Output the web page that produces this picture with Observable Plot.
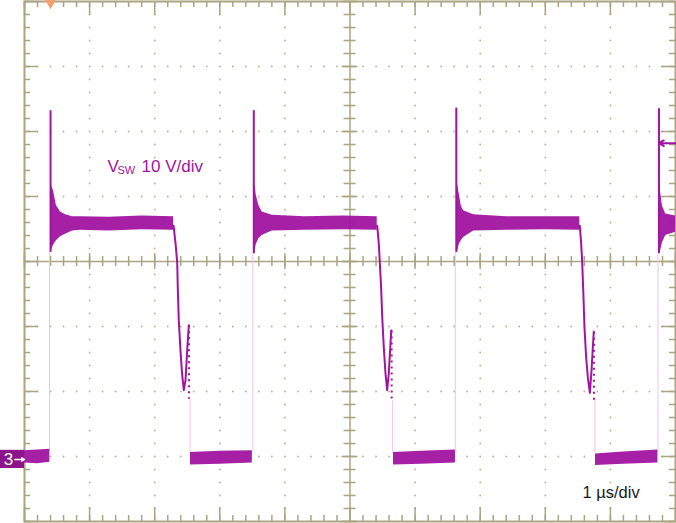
<!DOCTYPE html>
<html><head><meta charset="utf-8">
<script src="https://cdn.jsdelivr.net/npm/d3@7"></script>
<script src="https://cdn.jsdelivr.net/npm/@observablehq/plot@0.6"></script>
<style>
html,body{margin:0;padding:0;background:#fff;}
#chart{width:676px;height:523px;overflow:hidden;}
svg{display:block;}
</style></head><body><div id="chart"></div>
<script>
// ---- data (time in µs, voltage in V; ground = 0 V) ----
// noise-band envelopes: [time, low, high]
const low0  = [[0.00,-1.0,0.9],[0.20,-1.1,1.0],[0.39,-0.9,1.1]];
const high1 = [[0.415,31.7,41.7],[0.445,32.5,40.9],[0.49,33.2,38.6],[0.553,33.8,37.6],[0.63,34.2,37.2],[0.737,34.7,36.9],[0.86,34.8,36.9],[1.30,34.7,36.8],[1.80,34.9,37.0],[2.29,34.8,36.9]];
const low1  = [[2.55,-1.3,0.6],[3.00,-1.2,0.8],[3.50,-1.0,0.9]];
const high2 = [[3.535,31.2,42.3],[3.56,32.6,40.2],[3.60,33.5,38.6],[3.651,34.0,37.6],[3.805,34.7,37.1],[4.30,34.8,36.9],[4.90,34.9,37.0],[5.418,34.8,36.9]];
const low2  = [[5.668,-1.3,0.6],[6.10,-1.2,0.8],[6.62,-1.0,1.0]];
const high3 = [[6.65,31.4,42.0],[6.68,32.7,40.3],[6.71,33.2,38.5],[6.745,33.7,37.8],[6.90,34.7,37.2],[7.40,34.8,36.9],[8.00,34.9,36.9],[8.53,34.8,36.9]];
const low3  = [[8.771,-1.4,0.4],[9.20,-1.2,0.7],[9.73,-1.0,1.0]];
const high4 = [[9.76,31.2,41.5],[9.80,32.9,38.5],[9.85,34.0,37.3],[10.0,34.5,37.0]];

// rising edges: time, ringing minimum, spike top
const riseTimes = [0.40, 3.522, 6.633, 9.746];
const ringLow   = [31.4, 31.2, 31.4, 31.2];
const spikeTop  = [53.2, 53.2, 53.6, 53.5];

// falling edges: [time, volt]
const fall1 = [[2.29,35.5],[2.32,32.8],[2.346,29.8],[2.355,25.8],[2.37,20.9],[2.396,16.3],[2.42,12.8],[2.447,10.2],[2.473,11.7],[2.499,16.3],[2.524,20.2]];
const fall2 = [[5.418,35.5],[5.442,32.8],[5.458,29.8],[5.479,25.8],[5.495,21.4],[5.519,16.8],[5.545,12.8],[5.571,10.2],[5.596,12.8],[5.622,17.4],[5.633,19.4]];
const fall3 = [[8.53,35.5],[8.551,32.8],[8.567,29.8],[8.582,25.8],[8.602,19.8],[8.628,15.2],[8.653,12.2],[8.684,9.8],[8.71,13.2],[8.73,16.8],[8.745,19.2]];
// dotted tails after ringing bump: time, start volt, end volt
const tailTime  = [2.527, 5.64, 8.747];
const tailStart = [20.2, 19.4, 19.2];
const tailEnd   = [8.9, 8.6, 8.6];

const triggerLevel = 48.2;   // V, right-side arrow
const triggerTime  = 0.40;   // µs, top marker
const groundLevel  = 0;      // V, channel marker "3"

const chLabel   = "V";
const chSub     = "SW";
const chScale   = "10 V/div";
const timeScale = "1 µs/div";

// ---- build tables ----
const bandSets = [low0, high1, low1, high2, low2, high3, low3, high4];
const bands = bandSets.flatMap((s, i) => s.map(([t, lo, hi]) => ({seg: i, t, lo, hi})));
const spikes = riseTimes.map((t, i) => ({t, lo: ringLow[i], hi: spikeTop[i]}));
const falls = [fall1, fall2, fall3].flatMap((s, i) => s.map(([t, v]) => ({seg: i, t, v})));
const tails = tailTime.map((t, i) => ({t, a: tailStart[i], b: tailEnd[i]}));

// grid
const tan = "#aba482";
const dotCol = "#b8b296";
const xMinor = d3.range(0, 10.0001, 0.2).map(d => +d.toFixed(2));
const xMajor = d3.range(0, 11, 1);
const yMinor = d3.range(-10, 70.0001, 2);
const yMajor = d3.range(-10, 71, 10);
const pxT = 1 / 65.1, pxV = 1 / 6.5;
const gridDots = [];
for (const t of [1,2,3,4,6,7,8,9]) for (const v of yMinor) if (v > -10 && v < 70) gridDots.push({t, v});
for (const v of [0,10,20,40,50,60]) for (const t of xMinor) if (t > 0 && t < 10 && !Number.isInteger(t)) gridDots.push({t, v});

const trace = "#a114a1";
const font = "Liberation Sans, Arial, sans-serif";

const plot = Plot.plot({
  width: 676, height: 523,
  marginLeft: 24, marginRight: 1, marginTop: 1, marginBottom: 2,
  x: {domain: [0, 10], axis: null},
  y: {domain: [-10, 70], axis: null},
  style: {background: "#fff", fontFamily: font, overflow: "visible"},
  marks: [
    Plot.dot(gridDots, {x: "t", y: "v", r: 0.9, fill: dotCol, stroke: "none"}),
    Plot.ruleX([5], {y1: -10, y2: 70, stroke: tan, strokeWidth: 1.5}),
    Plot.ruleY([30], {x1: 0, x2: 10, stroke: tan, strokeWidth: 1.5}),
    // border ticks
    Plot.ruleX(xMinor, {x: d => d, y1: 70, y2: 70 - 6 * pxV, stroke: tan, strokeWidth: 1.5}),
    Plot.ruleX(xMajor, {x: d => d, y1: 70, y2: 70 - 14 * pxV, stroke: tan, strokeWidth: 1.5}),
    Plot.ruleX(xMinor, {x: d => d, y1: -10, y2: -10 + 6 * pxV, stroke: tan, strokeWidth: 1.5}),
    Plot.ruleX(xMajor, {x: d => d, y1: -10, y2: -10 + 14 * pxV, stroke: tan, strokeWidth: 1.5}),
    Plot.ruleY(yMinor, {y: d => d, x1: 0, x2: 6 * pxT, stroke: tan, strokeWidth: 1.5}),
    Plot.ruleY(yMajor, {y: d => d, x1: 0, x2: 14 * pxT, stroke: tan, strokeWidth: 1.5}),
    Plot.ruleY(yMinor, {y: d => d, x1: 10, x2: 10 - 6 * pxT, stroke: tan, strokeWidth: 1.5}),
    Plot.ruleY(yMajor, {y: d => d, x1: 10, x2: 10 - 14 * pxT, stroke: tan, strokeWidth: 1.5}),
    // center axis ticks
    Plot.ruleX(xMinor, {x: d => d, y1: 30 - 5 * pxV, y2: 30 + 5 * pxV, stroke: tan, strokeWidth: 1.5}),
    Plot.ruleX(xMajor, {x: d => d, y1: 30 - 8 * pxV, y2: 30 + 8 * pxV, stroke: tan, strokeWidth: 1.5}),
    Plot.ruleY(yMinor, {y: d => d, x1: 5 - 6 * pxT, x2: 5 + 6 * pxT, stroke: tan, strokeWidth: 1.5}),
    Plot.ruleY(yMajor, {y: d => d, x1: 5 - 8 * pxT, x2: 5 + 8 * pxT, stroke: tan, strokeWidth: 1.5}),
    Plot.frame({stroke: tan, strokeWidth: 2}),
    // faint fast transitions
    Plot.ruleX(spikes, {x: "t", y1: 0.8, y2: "lo", stroke: "#efc3ef", strokeWidth: 1, dx: -1}),
    Plot.ruleX(tails, {x: "t", y1: 0.5, y2: "b", stroke: "#efc3ef", strokeWidth: 1, dx: 1}),
    // waveform
    Plot.areaY(bands, {x: "t", y1: "lo", y2: "hi", z: "seg", fill: trace, fillOpacity: 0.95, curve: "linear"}),
    Plot.ruleX(spikes, {x: "t", y1: "lo", y2: "hi", stroke: trace, strokeWidth: 2}),
    Plot.line(falls, {x: "t", y: "v", z: "seg", stroke: trace, strokeWidth: 2, curve: "linear"}),
    Plot.link(tails, {x1: "t", x2: "t", y1: "a", y2: "b", stroke: trace, strokeWidth: 2, strokeDasharray: "2,4"}),
    // trigger markers
    Plot.arrow([triggerLevel], {x1: 10, x2: 9.745, y1: d => d, y2: d => d, stroke: trace, strokeWidth: 2, headLength: 7, bend: 0}),
    Plot.dot([triggerTime], {x: d => d, y: 70, symbol: "triangle", rotate: 180, r: 5, fill: "#f5a06e", stroke: "none"}),
    // channel marker
    Plot.rect([groundLevel], {x1: -0.369, x2: 0, y1: d => d - 1.85, y2: d => d + 0.95, fill: "#8c148c"}),
    Plot.text([groundLevel], {x: -0.369, y: d => d - 0.45, text: () => "3", dx: 8, textAnchor: "middle", lineAnchor: "middle", fill: "#fff", fontSize: 17}),
    Plot.arrow([groundLevel], {x1: -0.15, x2: 0, y1: d => d - 0.45, y2: d => d - 0.45, stroke: "#fff", strokeWidth: 1.5, headLength: 4, bend: 0}),
    // labels
    Plot.text([chLabel], {x: 1.275, y: 43.7, text: d => d, textAnchor: "start", lineAnchor: "bottom", fill: trace, fontSize: 17}),
    Plot.text([chSub], {x: 1.275, y: 43.7, text: d => d, dx: 10, dy: 2, textAnchor: "start", lineAnchor: "bottom", fill: trace, fontSize: 11}),
    Plot.text([chScale], {x: 1.275, y: 43.7, text: d => d, dx: 34, textAnchor: "start", lineAnchor: "bottom", fill: trace, fontSize: 17}),
    Plot.text([timeScale], {x: 8.571, y: -6.46, text: d => d, textAnchor: "start", lineAnchor: "bottom", fill: "#1a1a1a", fontSize: 16.5})
  ]
});
document.getElementById("chart").appendChild(plot);
</script></body></html>
